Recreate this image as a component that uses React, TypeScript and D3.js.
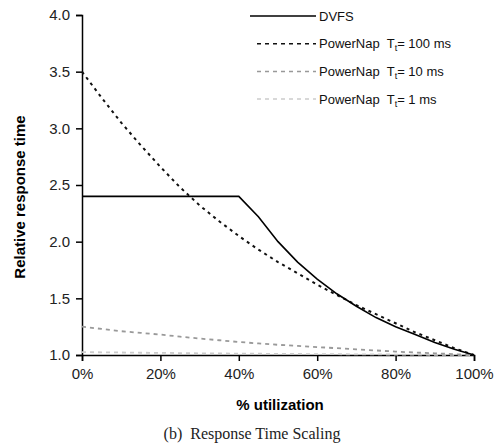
import React, { useRef, useEffect } from 'react';
import * as d3 from 'd3';

// % utilization
const utilization = [0, 5, 10, 15, 20, 25, 30, 35, 40, 45, 50, 55, 60, 65, 70, 75, 80, 85, 90, 95, 100];
const dvfs = [2.4, 2.4, 2.4, 2.4, 2.4, 2.4, 2.4, 2.4, 2.4, 2.22, 2.0, 1.82, 1.67, 1.54, 1.43, 1.33, 1.25, 1.18, 1.11, 1.05, 1.0];
const powerNap100 = [3.5, 3.27, 3.05, 2.85, 2.66, 2.48, 2.32, 2.18, 2.05, 1.93, 1.82, 1.72, 1.62, 1.53, 1.44, 1.36, 1.28, 1.2, 1.13, 1.06, 1.0];
const powerNap10 = [1.25, 1.23, 1.21, 1.195, 1.18, 1.162, 1.145, 1.13, 1.115, 1.102, 1.09, 1.08, 1.07, 1.06, 1.05, 1.04, 1.03, 1.022, 1.015, 1.007, 1.0];
const powerNap1 = [1.025, 1.024, 1.022, 1.02, 1.019, 1.017, 1.015, 1.014, 1.012, 1.011, 1.01, 1.009, 1.008, 1.007, 1.006, 1.005, 1.004, 1.003, 1.002, 1.001, 1.0];

const xTicks = [0, 20, 40, 60, 80, 100];
const yTicks = [1.0, 1.5, 2.0, 2.5, 3.0, 3.5, 4.0];

const series = [
    { name: 'DVFS', sub: '', rest: '', values: dvfs, color: '#000', dash: null, width: 1.6 },
    { name: 'PowerNap  T', sub: 't', rest: '= 100 ms', values: powerNap100, color: '#111', dash: '3,4', width: 2 },
    { name: 'PowerNap  T', sub: 't', rest: '= 10 ms', values: powerNap10, color: '#999', dash: '4,4', width: 1.8 },
    { name: 'PowerNap  T', sub: 't', rest: '= 1 ms', values: powerNap1, color: '#ccc', dash: '4,4', width: 1.8 },
];

export default function App() {
    const svgRef = useRef(null);
    const width = 496;
    const height = 446;
    const margin = { top: 15, right: 22, bottom: 91, left: 82 };

    useEffect(() => {
        const svg = d3.select(svgRef.current);
        svg.selectAll('*').remove();

        const x = d3.scaleLinear().domain([0, 100]).range([margin.left, width - margin.right]);
        const y = d3.scaleLinear().domain([1, 4]).range([height - margin.bottom, margin.top]);

        const font = 'Arial, "Liberation Sans", sans-serif';

        // x axis
        svg.append('g')
            .attr('transform', `translate(0,${y(1)})`)
            .call(d3.axisBottom(x).tickValues(xTicks).tickFormat(d => `${d}%`).tickSizeOuter(0).tickSize(6).tickPadding(7))
            .call(g => g.select('.domain').attr('stroke-width', 1.5))
            .call(g => g.selectAll('.tick line').attr('stroke-width', 1.5))
            .call(g => g.selectAll('.tick text').attr('font-size', 15).attr('font-family', font).attr('fill', '#222'));

        // y axis
        svg.append('g')
            .attr('transform', `translate(${x(0)},0)`)
            .call(d3.axisLeft(y).tickValues(yTicks).tickFormat(d3.format('.1f')).tickSizeOuter(0).tickSize(6).tickPadding(6))
            .call(g => g.select('.domain').attr('stroke-width', 1.5))
            .call(g => g.selectAll('.tick line').attr('stroke-width', 1.5))
            .call(g => g.selectAll('.tick text').attr('font-size', 15).attr('font-family', font).attr('fill', '#222'));

        // lines, light ones first so the dark ones stay on top
        const line = d3.line<number>()
            .x((d, i) => x(utilization[i]))
            .y(d => y(d));

        [...series].reverse().forEach(s => {
            svg.append('path')
                .datum(s.values)
                .attr('fill', 'none')
                .attr('stroke', s.color)
                .attr('stroke-width', s.width)
                .attr('stroke-dasharray', s.dash)
                .attr('d', line);
        });

        // legend
        const legend = svg.append('g').attr('transform', 'translate(250,16)');
        series.forEach((s, i) => {
            const row = legend.append('g').attr('transform', `translate(0,${i * 27.7})`);
            row.append('line')
                .attr('x1', s.dash ? 7 : 0)
                .attr('x2', 66)
                .attr('stroke', s.color)
                .attr('stroke-width', s.dash ? 1.5 : 1.6)
                .attr('stroke-dasharray', s.dash ? '4,4' : null);
            const t = row.append('text')
                .attr('x', 69)
                .attr('dy', '0.35em')
                .attr('font-size', 13)
                .attr('font-family', font)
                .attr('fill', '#111')
                .style('white-space', 'pre');
            t.append('tspan').text(s.name);
            if (s.sub) {
                t.append('tspan').attr('font-size', 9).attr('dy', 3).text(s.sub);
                t.append('tspan').attr('dy', -3).text(s.rest);
            }
        });

        // axis titles
        svg.append('text')
            .attr('x', 280)
            .attr('y', 410)
            .attr('text-anchor', 'middle')
            .attr('font-size', 15)
            .attr('font-weight', 'bold')
            .attr('font-family', font)
            .text('% utilization');

        svg.append('text')
            .attr('transform', `translate(25,197) rotate(-90)`)
            .attr('text-anchor', 'middle')
            .attr('font-size', 15)
            .attr('font-weight', 'bold')
            .attr('font-family', font)
            .text('Relative response time');

        // caption
        svg.append('text')
            .attr('x', 252)
            .attr('y', 439)
            .attr('text-anchor', 'middle')
            .attr('font-size', 16)
            .attr('font-family', '"Liberation Serif", "Times New Roman", serif')
            .attr('fill', '#222')
            .style('white-space', 'pre')
            .text('(b)  Response Time Scaling');
    }, []);

    return (
        <svg
            ref={svgRef}
            width={width}
            height={height}
            style={{ position: 'absolute', left: 0, top: 0, background: '#fff' }}
        />
    );
}
